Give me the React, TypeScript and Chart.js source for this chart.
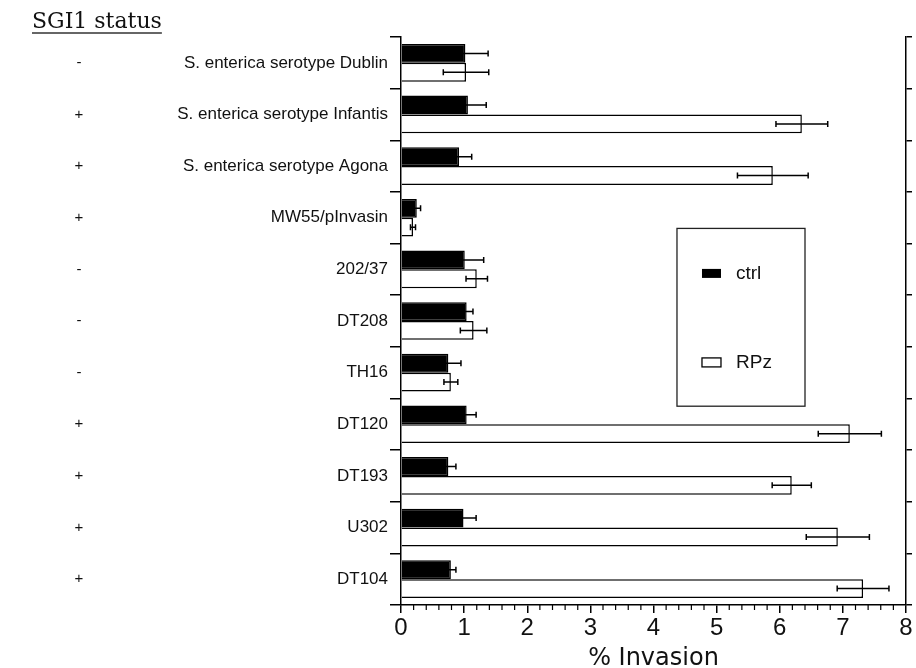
import { useEffect, useRef } from 'react';
import { Chart, registerables } from 'chart.js';

Chart.register(...registerables);

const strains = [
  'S. enterica serotype Dublin',
  'S. enterica serotype Infantis',
  'S. enterica serotype Agona',
  'MW55/pInvasin',
  '202/37',
  'DT208',
  'TH16',
  'DT120',
  'DT193',
  'U302',
  'DT104',
];
const sgi1Status = ['-', '+', '+', '+', '-', '-', '-', '+', '+', '+', '+'];
const seriesNames = ['ctrl', 'RPz'];
const ctrlValues = [1.02, 1.06, 0.92, 0.25, 1.01, 1.04, 0.75, 1.04, 0.75, 0.99, 0.79];
const ctrlErrors = [0.36, 0.29, 0.2, 0.06, 0.3, 0.1, 0.2, 0.15, 0.12, 0.2, 0.08];
const rpzValues = [1.03, 6.35, 5.89, 0.19, 1.2, 1.15, 0.79, 7.11, 6.19, 6.92, 7.32];
const rpzErrors = [0.36, 0.41, 0.56, 0.04, 0.17, 0.21, 0.11, 0.5, 0.31, 0.5, 0.41];
const xMin = 0;
const xMax = 8;
const xMajorStep = 1;
const xMinorStep = 0.2;
const statusTitle = 'SGI1 status';
const xTitle = '% Invasion';

const errorsBySeries = [ctrlErrors, rpzErrors];

const errorBarPlugin = {
  id: 'errorBars',
  afterDatasetsDraw(chart: any) {
    const ctx = chart.ctx;
    const xs = chart.scales.x;
    ctx.save();
    ctx.strokeStyle = '#000';
    ctx.lineWidth = 1.5;
    chart.data.datasets.forEach((ds: any, di: number) => {
      const meta = chart.getDatasetMeta(di);
      meta.data.forEach((bar: any, j: number) => {
        const v = ds.data[j];
        const e = errorsBySeries[di][j];
        const lo = xs.getPixelForValue(v - e);
        const hi = xs.getPixelForValue(v + e);
        const y = bar.y;
        ctx.beginPath();
        ctx.moveTo(lo, y);
        ctx.lineTo(hi, y);
        ctx.moveTo(lo, y - 3);
        ctx.lineTo(lo, y + 3);
        ctx.moveTo(hi, y - 3);
        ctx.lineTo(hi, y + 3);
        ctx.stroke();
      });
    });
    ctx.restore();
  },
};

const decorPlugin = {
  id: 'decor',
  afterDraw(chart: any) {
    const ctx = chart.ctx;
    const xs = chart.scales.x;
    const ys = chart.scales.y;
    const area = chart.chartArea;
    ctx.save();
    // minor x ticks
    ctx.strokeStyle = '#000';
    ctx.lineWidth = 1.2;
    const nMinor = Math.round((xMax - xMin) / xMinorStep);
    const perMajor = Math.round(xMajorStep / xMinorStep);
    for (let k = 0; k <= nMinor; k++) {
      if (k % perMajor === 0) continue;
      const px = xs.getPixelForValue(xMin + k * xMinorStep);
      ctx.beginPath();
      ctx.moveTo(px, area.bottom);
      ctx.lineTo(px, area.bottom + 5);
      ctx.stroke();
    }
    // SGI1 status column
    ctx.fillStyle = '#111';
    ctx.font = '15px "Liberation Sans", Arial, sans-serif';
    ctx.textAlign = 'center';
    ctx.textBaseline = 'middle';
    sgi1Status.forEach((s, i) => {
      ctx.fillText(s, 79, ys.getPixelForValue(i));
    });
    // title
    ctx.font = '22px "DejaVu Serif", serif';
    ctx.textAlign = 'left';
    ctx.textBaseline = 'alphabetic';
    ctx.fillStyle = '#111';
    const tx = 32;
    const ty = 28;
    ctx.fillText(statusTitle, tx, ty);
    const w = ctx.measureText(statusTitle).width;
    ctx.strokeStyle = '#333';
    ctx.lineWidth = 1.3;
    ctx.beginPath();
    ctx.moveTo(tx, ty + 5);
    ctx.lineTo(tx + w, ty + 5);
    ctx.stroke();
    // legend box
    const aw = area.right - area.left;
    const ah = area.bottom - area.top;
    const bl = area.left + aw * 0.5465;
    const br = area.left + aw * 0.8;
    const bt = area.top + ah * 0.337;
    const bb = area.top + ah * 0.65;
    ctx.strokeStyle = '#222';
    ctx.lineWidth = 1.3;
    ctx.strokeRect(bl, bt, br - bl, bb - bt);
    const sx = bl + 25;
    const sw = 19;
    const sh = 9;
    const y1 = bt + 45;
    const y2 = bt + 134;
    ctx.fillStyle = '#000';
    ctx.fillRect(sx, y1 - sh / 2, sw, sh);
    ctx.fillStyle = '#fff';
    ctx.fillRect(sx, y2 - sh / 2, sw, sh);
    ctx.strokeStyle = '#000';
    ctx.lineWidth = 1.3;
    ctx.strokeRect(sx, y2 - sh / 2, sw, sh);
    ctx.fillStyle = '#111';
    ctx.font = '19px "Liberation Sans", Arial, sans-serif';
    ctx.textBaseline = 'middle';
    ctx.textAlign = 'left';
    ctx.fillText(seriesNames[0], sx + 34, y1);
    ctx.fillText(seriesNames[1], sx + 34, y2);
    ctx.restore();
  },
};

export default function App() {
  const ref = useRef<HTMLCanvasElement>(null);
  useEffect(() => {
    const chart = new Chart(ref.current as HTMLCanvasElement, {
      type: 'bar',
      data: {
        labels: strains,
        datasets: [
          {
            label: seriesNames[0],
            data: ctrlValues,
            backgroundColor: '#000',
            borderColor: '#000',
            borderWidth: 1.5,
            categoryPercentage: 0.73,
            barPercentage: 1.0,
          },
          {
            label: seriesNames[1],
            data: rpzValues,
            backgroundColor: '#fff',
            borderColor: '#000',
            borderWidth: 1.5,
            categoryPercentage: 0.73,
            barPercentage: 1.0,
          },
        ],
      },
      options: {
        indexAxis: 'y',
        responsive: false,
        animation: false,
        devicePixelRatio: 1,
        layout: { padding: { top: 37, left: 0, right: 0, bottom: 0 } },
        plugins: {
          legend: { display: false },
          tooltip: { enabled: false },
        },
        scales: {
          x: {
            type: 'linear',
            min: xMin,
            max: xMax,
            afterFit: (s: any) => {
              s.height = 63;
            },
            ticks: {
              stepSize: xMajorStep,
              color: '#111',
              padding: 1,
              font: { family: '"Liberation Sans", Arial, sans-serif', size: 24 },
            },
            grid: {
              drawOnChartArea: false,
              tickLength: 8,
              color: '#000',
              lineWidth: 1.5,
            },
            border: { color: '#000', width: 1.5 },
            title: {
              display: true,
              text: xTitle,
              color: '#111',
              padding: { top: 0, bottom: -3 },
              font: { family: '"DejaVu Sans", sans-serif', size: 24, lineHeight: 1 },
            },
          },
          y: {
            type: 'category',
            offset: true,
            afterFit: (s: any) => {
              s.width = 401;
            },
            ticks: {
              color: '#111',
              padding: 2,
              font: { family: '"Liberation Sans", Arial, sans-serif', size: 17 },
            },
            grid: {
              offset: true,
              drawOnChartArea: false,
              tickLength: 11,
              color: '#000',
              lineWidth: 1.5,
            },
            border: { color: '#000', width: 1.5 },
          },
          y2: {
            type: 'category',
            position: 'right',
            labels: strains,
            offset: true,
            afterFit: (s: any) => {
              s.width = 10;
            },
            ticks: { display: false },
            grid: {
              offset: true,
              drawOnChartArea: false,
              tickLength: 6,
              color: '#000',
              lineWidth: 1.5,
            },
            border: { color: '#000', width: 1.5 },
          },
        },
      },
      plugins: [errorBarPlugin, decorPlugin],
    } as any);
    return () => chart.destroy();
  }, []);
  return (
    <div style={{ position: 'absolute', left: 0, top: 0, width: 916, height: 668, background: '#fff' }}>
      <canvas ref={ref} width={916} height={668} style={{ display: 'block' }} />
    </div>
  );
}
